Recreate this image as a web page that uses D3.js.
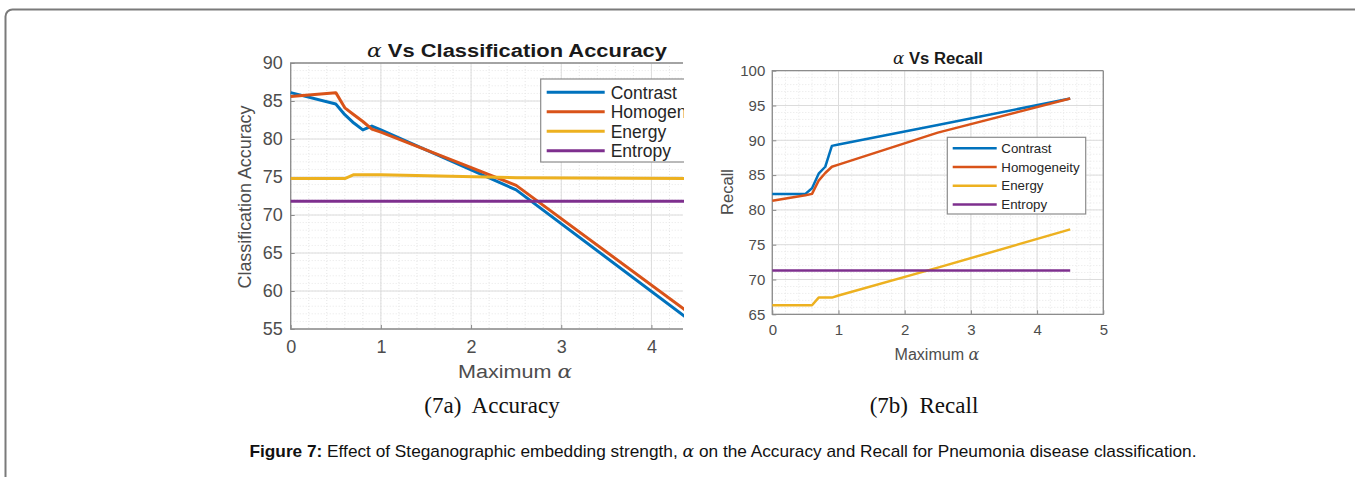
<!DOCTYPE html>
<html>
<head>
<meta charset="utf-8">
<script src="https://cdn.jsdelivr.net/npm/d3@7"></script>
<style>
  body { margin: 0; background: #fff; }
  svg text { font-family: Arial, "Liberation Sans", sans-serif; }
  .tick text { fill: #4d4d4d; }
  .domain { display: none; }
  .tick line { stroke: #8c8c8c; }
</style>
</head>
<body>
<svg id="fig" width="1355" height="477"></svg>
<script>
// ---- data ----
const seriesNames = ["Contrast", "Homogeneity", "Energy", "Entropy"];
const colors = ["#0072BD", "#D95319", "#EDB120", "#7E2F8E"];

// accuracy vs maximum alpha
const alphaAcc = [0, 0.5, 0.6, 0.7, 0.8, 0.9, 1.0, 2.5, 4.5];
const accContrast    = [86.1, 84.6, 83.2, 82.1, 81.2, 81.7, 81.2, 73.3, 55.5];
const accHomogeneity = [85.6, 86.1, 84.1, 83.2, 82.3, 81.3, 80.9, 73.9, 56.4];
const accEnergy      = [74.8, 74.8, 74.8, 75.3, 75.3, 75.3, 75.3, 74.9, 74.8];
const accEntropy     = [71.8, 71.8, 71.8, 71.8, 71.8, 71.8, 71.8, 71.8, 71.8];

// recall vs maximum alpha
const alphaRec = [0, 0.5, 0.6, 0.7, 0.8, 0.9, 1.0, 2.5, 4.5];
const recContrast    = [82.3, 82.3, 83.1, 85.2, 86.2, 89.2, 89.4, 92.2, 96.0];
const recHomogeneity = [81.3, 82.1, 82.3, 84.2, 85.3, 86.2, 86.5, 91.1, 96.0];
const recEnergy      = [66.3, 66.3, 66.3, 67.4, 67.4, 67.4, 67.7, 71.7, 77.2];
const recEntropy     = [71.3, 71.3, 71.3, 71.3, 71.3, 71.3, 71.3, 71.3, 71.3];

const accTicksX = [0, 1, 2, 3, 4];
const accTicksY = [55, 60, 65, 70, 75, 80, 85, 90];
const recTicksX = [0, 1, 2, 3, 4, 5];
const recTicksY = [65, 70, 75, 80, 85, 90, 95, 100];

const svg = d3.select("#fig");

// outer frame of the figure
svg.append("rect")
  .attr("x", 5.5).attr("y", 9.5)
  .attr("width", 1400).attr("height", 520)
  .attr("rx", 7)
  .attr("fill", "none")
  .attr("stroke", "#7a7a7a")
  .attr("stroke-width", 2);

svg.append("defs").append("clipPath").attr("id", "clipA")
  .append("rect").attr("x", 0).attr("y", 0).attr("width", 684).attr("height", 477);

function drawPanel(opt){

  const g = svg.append("g");
  if(opt.clip) g.attr("clip-path", "url(#" + opt.clip + ")");

  const x = d3.scaleLinear().domain(opt.xDomain).range([opt.left, opt.right]);
  const y = d3.scaleLinear().domain(opt.yDomain).range([opt.bottom, opt.top]);

  // minor grid
  const xMinor = d3.range(opt.xDomain[0], opt.xDomain[1] + 1e-9, 0.2);
  const yMinor = d3.range(opt.yDomain[0], opt.yDomain[1] + 1e-9, 1);
  g.append("g").selectAll("line").data(xMinor).join("line")
    .attr("x1", d => x(d)).attr("x2", d => x(d))
    .attr("y1", opt.top).attr("y2", opt.bottom)
    .attr("stroke", "#e6e6e6").attr("stroke-dasharray", "1,2");
  g.append("g").selectAll("line").data(yMinor).join("line")
    .attr("x1", opt.left).attr("x2", opt.right)
    .attr("y1", d => y(d)).attr("y2", d => y(d))
    .attr("stroke", "#e6e6e6").attr("stroke-dasharray", "1,2");

  // major grid
  g.append("g").selectAll("line").data(opt.ticksX).join("line")
    .attr("x1", d => x(d)).attr("x2", d => x(d))
    .attr("y1", opt.top).attr("y2", opt.bottom)
    .attr("stroke", "#dcdcdc");
  g.append("g").selectAll("line").data(opt.ticksY).join("line")
    .attr("x1", opt.left).attr("x2", opt.right)
    .attr("y1", d => y(d)).attr("y2", d => y(d))
    .attr("stroke", "#dcdcdc");

  // axes
  g.append("g")
    .attr("transform", "translate(" + opt.left + ",0)")
    .call(d3.axisLeft(y).tickValues(opt.ticksY).tickFormat(d3.format("d")).tickSizeInner(-4).tickSizeOuter(0).tickPadding(opt.padY))
    .call(a => a.selectAll("text").style("font-size", opt.tickFont + "px"));
  g.append("g")
    .attr("transform", "translate(0," + opt.bottom + ")")
    .call(d3.axisBottom(x).tickValues(opt.ticksX).tickFormat(d3.format("d")).tickSizeInner(-4).tickSizeOuter(0).tickPadding(opt.padX))
    .call(a => a.selectAll("text").style("font-size", opt.tickFont + "px"));

  // box
  g.append("path")
    .attr("d", "M" + opt.right + "," + opt.top + "H" + opt.left + "V" + opt.bottom + "H" + opt.right + (opt.clip ? "" : "V" + opt.top))
    .attr("fill", "none")
    .attr("stroke", "#8c8c8c")
    .attr("stroke-width", 1.3);

  // lines
  const line = d3.line().x(d => x(d.x)).y(d => y(d.y));
  opt.series.forEach((s, i) => {
    const pts = opt.alpha.map((a, j) => ({x: a, y: s[j]}));
    g.append("path")
      .datum(pts)
      .attr("d", line)
      .attr("fill", "none")
      .attr("stroke", colors[i])
      .attr("stroke-width", opt.lineWidth)
      .attr("stroke-linejoin", "round");
  });

  // legend
  const L = opt.legend;
  g.append("rect")
    .attr("x", L.x).attr("y", L.y).attr("width", L.w).attr("height", L.h)
    .attr("fill", "#fff").attr("stroke", "#8c8c8c").attr("stroke-width", 1.2);
  seriesNames.forEach((name, i) => {
    const yy = L.y + L.first + i * L.step;
    g.append("line")
      .attr("x1", L.x + L.lx1).attr("x2", L.x + L.lx2)
      .attr("y1", yy).attr("y2", yy)
      .attr("stroke", colors[i]).attr("stroke-width", opt.lineWidth);
    g.append("text")
      .attr("x", L.x + L.tx).attr("y", yy)
      .attr("dy", "0.36em")
      .style("font-size", L.font + "px")
      .attr("fill", "#262626")
      .text(name);
  });

  // title
  const t = g.append("text")
    .attr("x", opt.titleX).attr("y", opt.titleY)
    .attr("text-anchor", "middle")
    .attr("textLength", opt.titleLen)
    .attr("lengthAdjust", "spacingAndGlyphs")
    .style("font-size", opt.titleFont + "px")
    .style("font-weight", "bold")
    .attr("fill", "#1a1a1a");
  t.append("tspan").style("font-family", "'DejaVu Serif', serif").style("font-style", "italic").style("font-weight", "normal").text("α");
  t.append("tspan").text(" Vs " + opt.title);

  // axis labels
  const xl = g.append("text")
    .attr("x", opt.xLabelX).attr("y", opt.xLabelY)
    .attr("text-anchor", "middle")
    .attr("textLength", opt.xLabelLen)
    .attr("lengthAdjust", "spacingAndGlyphs")
    .style("font-size", opt.labelFont + "px")
    .attr("fill", "#4d4d4d");
  xl.append("tspan").text("Maximum ");
  xl.append("tspan").style("font-family", "'DejaVu Serif', serif").style("font-style", "italic").text("α");

  g.append("text")
    .attr("transform", "translate(" + opt.yLabelX + "," + opt.yLabelY + ") rotate(-90)")
    .attr("text-anchor", "middle")
    .attr("textLength", opt.yLabelLen)
    .attr("lengthAdjust", "spacingAndGlyphs")
    .style("font-size", opt.labelFont + "px")
    .attr("fill", "#4d4d4d")
    .text(opt.yLabel);
}

drawPanel({
  clip: "clipA",
  xDomain: [0, 4.35], yDomain: [55, 90],
  left: 290.7, right: 683, top: 63, bottom: 329,
  ticksX: accTicksX, ticksY: accTicksY,
  tickFont: 18, padY: 8, padX: 11,
  alpha: alphaAcc,
  series: [accContrast, accHomogeneity, accEnergy, accEntropy],
  lineWidth: 3,
  legend: {x: 540.7, y: 79, w: 160, h: 83, first: 13.3, step: 19.5, lx1: 6, lx2: 64, tx: 70, font: 17.5},
  title: "Classification Accuracy", titleX: 517, titleY: 57, titleFont: 18, titleLen: 300,
  xLabelX: 515, xLabelY: 378, labelFont: 18, xLabelLen: 114,
  yLabel: "Classification Accuracy", yLabelX: 251, yLabelY: 197, yLabelLen: 183
});

drawPanel({
  xDomain: [0, 5], yDomain: [65, 100],
  left: 772.3, right: 1103.3, top: 70.7, bottom: 314.3,
  ticksX: recTicksX, ticksY: recTicksY,
  tickFont: 15, padY: 7, padX: 10,
  alpha: alphaRec,
  series: [recContrast, recHomogeneity, recEnergy, recEntropy],
  lineWidth: 2.5,
  legend: {x: 947.3, y: 137.3, w: 138.4, h: 76.7, first: 11, step: 18.7, lx1: 5.4, lx2: 49.4, tx: 54, font: 13.3},
  title: "Recall", titleX: 938, titleY: 64, titleFont: 16, titleLen: 90,
  xLabelX: 937, xLabelY: 360, labelFont: 16, xLabelLen: 85,
  yLabel: "Recall", yLabelX: 733, yLabelY: 192, yLabelLen: 46
});

// sub captions
svg.append("text")
  .attr("x", 492).attr("y", 413)
  .attr("text-anchor", "middle")
  .style("font-family", "'Liberation Serif', 'Times New Roman', serif")
  .style("font-size", "23px")
  .attr("fill", "#111")
  .attr("xml:space", "preserve")
  .text("(7a)  Accuracy");
svg.append("text")
  .attr("x", 924).attr("y", 413)
  .attr("text-anchor", "middle")
  .style("font-family", "'Liberation Serif', 'Times New Roman', serif")
  .style("font-size", "23px")
  .attr("fill", "#111")
  .attr("xml:space", "preserve")
  .text("(7b)  Recall");

// figure caption
const cap = svg.append("text")
  .attr("x", 723).attr("y", 457)
  .attr("text-anchor", "middle")
  .attr("textLength", 947)
  .attr("lengthAdjust", "spacingAndGlyphs")
  .style("font-size", "17px")
  .attr("fill", "#111");
cap.append("tspan").style("font-weight", "bold").text("Figure 7:");
cap.append("tspan").text(" Effect of Steganographic embedding strength, ");
cap.append("tspan").style("font-family", "'DejaVu Serif', serif").style("font-style", "italic").text("α");
cap.append("tspan").text(" on the Accuracy and Recall for Pneumonia disease classification.");
</script>
</body>
</html>
